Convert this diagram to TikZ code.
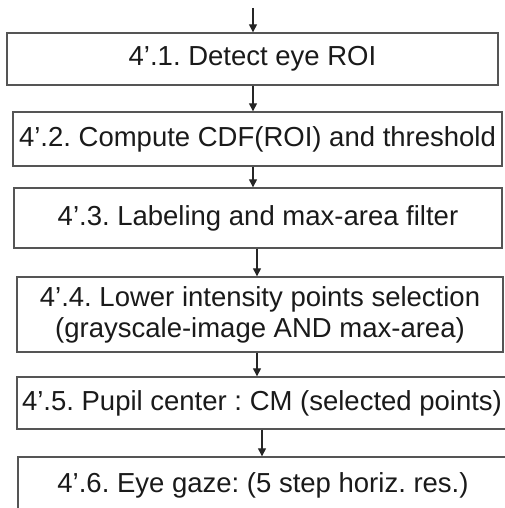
\documentclass[tikz,border=0pt]{standalone}
\usepackage{fontspec}
\setmainfont{Liberation Sans}
\usetikzlibrary{arrows.meta}
\definecolor{boxline}{HTML}{555555}
\definecolor{txt}{HTML}{1A1A1A}
\tikzset{
  stepbox/.style={draw=boxline, line width=1.4pt, fill=white, inner sep=0pt,
    font=\fontsize{27.5}{31}\selectfont\frenchspacing, text=txt, align=center},
  arr/.style={draw=black!85, line width=1.3pt, -{Triangle[length=8pt,width=8pt]}}
}
\begin{document}
\begin{tikzpicture}[x=1pt,y=-1pt]
\useasboundingbox (0,0) rectangle (504,508);
\node[stepbox, minimum width=491pt, minimum height=52pt] (b1) at (252.5,59) {4'.1. Detect eye ROI};
\node[stepbox, minimum width=489pt, minimum height=54pt] (b2) at (257.5,139) {4'.2. Compute CDF(ROI) and threshold};
\node[stepbox, minimum width=488pt, minimum height=60pt] (b3) at (258,218) {4'.3. Labeling and max-area filter};
\node[stepbox, minimum width=486pt, minimum height=75pt] (b4) at (260,314.5) {4'.4. Lower intensity points selection\\(grayscale-image AND max-area)};
\node[stepbox, minimum width=490pt, minimum height=52pt] (b5) at (262,403) {4'.5. Pupil center : CM (selected points)};
\node[stepbox, minimum width=490pt, minimum height=56pt] (b6) at (263,485) {4'.6. Eye gaze: (5 step horiz. res.)};
\coordinate (start) at (253,8);
\coordinate (x1) at (253,0);
\coordinate (x2) at (257,0);
\coordinate (x3) at (262,0);
\draw[arr] (start) -- (b1.north -| start);
\draw[arr] (b1.south -| x1) -- (b2.north -| x1);
\draw[arr] (b2.south -| x1) -- (b3.north -| x1);
\draw[arr] (b3.south -| x2) -- (b4.north -| x2);
\draw[arr] (b4.south -| x2) -- (b5.north -| x2);
\draw[arr] (b5.south -| x3) -- (b6.north -| x3);
\end{tikzpicture}
\end{document}
